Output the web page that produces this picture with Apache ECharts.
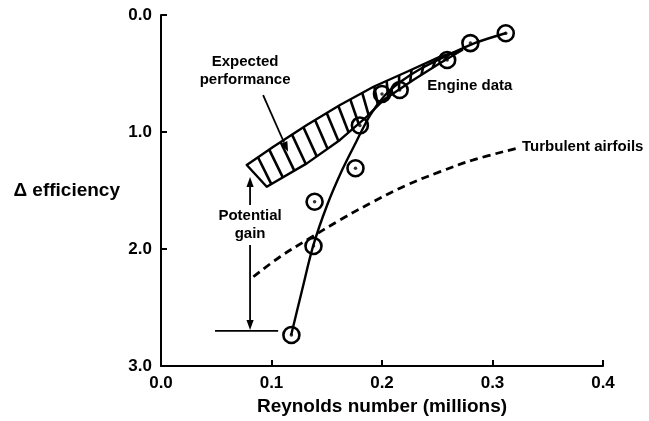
<!DOCTYPE html>
<html><head><meta charset="utf-8">
<script src="https://cdn.jsdelivr.net/npm/echarts@6/dist/echarts.min.js"></script>
<style>html,body{margin:0;padding:0;background:#fff}#c{width:649px;height:421px}</style>
</head><body><div id="c"></div>
<script>
// ---- tick labels ----
const xTickLabels = ['0.0', '0.1', '0.2', '0.3', '0.4'];
const yTickLabels = ['0.0', '1.0', '2.0', '3.0'];

// ---- engine data (circles) ----
const engineDataX = [0.118, 0.138, 0.139, 0.176, 0.180, 0.200, 0.216, 0.259, 0.280, 0.312];
const engineDataY = [2.735, 1.974, 1.596, 1.310, 0.944, 0.675, 0.641, 0.385, 0.240, 0.156];

// ---- engine data fitted curve ----
const engineFitX = [0.1178, 0.1277, 0.1377, 0.1504, 0.1639, 0.1766, 0.1893, 0.2029, 0.2165, 0.2346, 0.2582, 0.2844, 0.3125];
const engineFitY = [2.735, 2.350, 1.974, 1.624, 1.325, 1.085, 0.855, 0.684, 0.573, 0.462, 0.350, 0.239, 0.154];

// ---- turbulent airfoils (dashed) ----
const turbulentX = [0.0836, 0.1078, 0.132, 0.162, 0.192, 0.2226, 0.2527, 0.2826, 0.3222];
const turbulentY = [2.237, 2.066, 1.923, 1.752, 1.596, 1.453, 1.339, 1.239, 1.139];

// ---- expected performance band edges ----
const bandUpperX = [0.0776, 0.1017, 0.132, 0.162, 0.1923, 0.2226, 0.2527, 0.2726];
const bandUpperY = [1.282, 1.126, 0.940, 0.769, 0.613, 0.485, 0.356, 0.299];
const bandLowerX = [0.0957, 0.132, 0.162, 0.1863, 0.2014, 0.2283, 0.2527, 0.2726];
const bandLowerY = [1.468, 1.268, 1.068, 0.869, 0.726, 0.556, 0.410, 0.299];

// ---- annotations ----
const labelTexts = ['Expected\nperformance', 'Engine data', 'Turbulent airfoils', 'Potential\ngain'];
const labelX = [0.0761, 0.241, 0.3267, 0.0806];
const labelY = [0.478, 0.607, 1.126, 1.795];
const labelAlign = ['center', 'left', 'left', 'center'];

const arrowFromX = [0.0924, 0.0806, 0.0806];
const arrowFromY = [0.684, 1.624, 1.966];
const arrowToX = [0.115, 0.0806, 0.0806];
const arrowToY = [1.168, 1.385, 2.692];

const gainBaseX = [0.0489, 0.106];
const gainBaseY = [2.70, 2.70];

const FONT = '"Liberation Sans", Arial, Helvetica, sans-serif';

function zip(xs, ys) { return xs.map((x, i) => [x, ys[i]]); }
function dist(a, b) { return Math.hypot(b[0] - a[0], b[1] - a[1]); }
function polyLen(p) { let s = 0; for (let i = 1; i < p.length; i++) s += dist(p[i - 1], p[i]); return s; }
function pointAt(p, s) {
  if (s <= 0) return p[0];
  for (let i = 1; i < p.length; i++) {
    const d = dist(p[i - 1], p[i]);
    if (s <= d) { const t = s / d; return [p[i - 1][0] + t * (p[i][0] - p[i - 1][0]), p[i - 1][1] + t * (p[i][1] - p[i - 1][1])]; }
    s -= d;
  }
  return p[p.length - 1];
}

const chart = echarts.init(document.getElementById('c'), null, { renderer: 'canvas' });

const option = {
  backgroundColor: '#fff',
  animation: false,
  grid: { left: 161, right: 46, top: 15, bottom: 55 },
  xAxis: {
    type: 'value', min: 0, max: 0.4, interval: 0.1, position: 'bottom',
    name: 'Reynolds number (millions)', nameLocation: 'middle', nameGap: 30,
    nameTextStyle: { fontFamily: FONT, fontSize: 19, fontWeight: 'bold', color: '#000' },
    axisLine: { show: true, onZero: false, lineStyle: { color: '#000', width: 2 } },
    axisTick: { show: true, inside: true, length: 6, lineStyle: { color: '#000', width: 2 } },
    axisLabel: { margin: 9, fontFamily: FONT, fontSize: 17, fontWeight: 'bold', color: '#000',
      formatter: v => xTickLabels[Math.round(v * 10)] },
    splitLine: { show: false }
  },
  yAxis: {
    type: 'value', min: 0, max: 3, interval: 1, inverse: true, position: 'left',
    name: 'Δ efficiency', nameLocation: 'middle', nameRotate: 0, nameGap: 41,
    nameTextStyle: { fontFamily: FONT, fontSize: 19, fontWeight: 'bold', color: '#000', align: 'right' },
    axisLine: { show: true, onZero: false, lineStyle: { color: '#000', width: 2 } },
    axisTick: { show: true, inside: true, length: 6, lineStyle: { color: '#000', width: 2 } },
    axisLabel: { margin: 9, fontFamily: FONT, fontSize: 17, fontWeight: 'bold', color: '#000',
      formatter: v => yTickLabels[Math.round(v)] },
    splitLine: { show: false }
  },
  series: [
    {
      name: 'Expected performance', type: 'custom', z: 3,
      data: [[bandUpperX[0], bandUpperY[0]]],
      renderItem: function (params, api) {
        const up = zip(bandUpperX, bandUpperY).map(p => api.coord(p));
        const lo = zip(bandLowerX, bandLowerY).map(p => api.coord(p));
        const poly = up.concat(lo.slice().reverse());
        const Lu = polyLen(up), Ll = polyLen(lo);
        const children = [{
          type: 'polygon', shape: { points: poly },
          style: { fill: '#fff', stroke: '#000', lineWidth: 2.4, lineJoin: 'round' }
        }];
        const N = 17;
        for (let k = 1; k <= N; k++) {
          const f = k / (N + 1);
          const a = pointAt(up, f * Lu);
          const b = pointAt(lo, Math.max(0, f * Ll - 8));
          children.push({ type: 'line', shape: { x1: a[0], y1: a[1], x2: b[0], y2: b[1] },
            style: { stroke: '#000', lineWidth: 2.6 } });
        }
        return { type: 'group', children: children };
      }
    },
    {
      name: 'Turbulent airfoils', type: 'line', z: 4, smooth: 0.4, showSymbol: false,
      data: zip(turbulentX, turbulentY),
      lineStyle: { color: '#000', width: 2.8, type: [8, 5] }
    },
    {
      name: 'Engine fit', type: 'line', z: 5, smooth: 0.3, showSymbol: false,
      data: zip(engineFitX, engineFitY),
      lineStyle: { color: '#000', width: 2.4 }
    },
    {
      name: 'Engine data', type: 'scatter', z: 6, symbol: 'circle', symbolSize: 16,
      data: zip(engineDataX, engineDataY),
      itemStyle: { color: 'rgba(255,255,255,0)', borderColor: '#000', borderWidth: 2.6, opacity: 1 }
    },
    {
      name: 'Engine data dots', type: 'scatter', z: 7, symbol: 'circle', symbolSize: 3.5,
      data: zip(engineDataX, engineDataY),
      itemStyle: { color: '#000' }
    },
    {
      name: 'Arrows', type: 'custom', z: 8,
      data: arrowFromX.map((x, i) => [x, arrowFromY[i], arrowToX[i], arrowToY[i]]),
      renderItem: function (params, api) {
        const i = params.dataIndex;
        const p0 = api.coord([arrowFromX[i], arrowFromY[i]]);
        const p1 = api.coord([arrowToX[i], arrowToY[i]]);
        const dx = p1[0] - p0[0], dy = p1[1] - p0[1], L = Math.hypot(dx, dy);
        const ux = dx / L, uy = dy / L, hl = 10, hw = 3.6;
        const bx = p1[0] - ux * hl, by = p1[1] - uy * hl;
        return { type: 'group', children: [
          { type: 'line', shape: { x1: p0[0], y1: p0[1], x2: bx, y2: by }, style: { stroke: '#000', lineWidth: 1.8 } },
          { type: 'polygon', shape: { points: [p1, [bx - uy * hw, by + ux * hw], [bx + uy * hw, by - ux * hw]] }, style: { fill: '#000' } }
        ] };
      }
    },
    {
      name: 'Gain base', type: 'line', z: 8, showSymbol: false,
      data: zip(gainBaseX, gainBaseY),
      lineStyle: { color: '#000', width: 1.8 }
    },
    {
      name: 'Labels', type: 'custom', z: 9,
      data: labelX.map((x, i) => [x, labelY[i]]),
      renderItem: function (params, api) {
        const i = params.dataIndex;
        const p = api.coord([labelX[i], labelY[i]]);
        return { type: 'text', x: p[0], y: p[1], style: {
          text: labelTexts[i], fill: '#000', font: 'bold 15px ' + FONT,
          align: labelAlign[i], verticalAlign: 'middle', lineHeight: 18
        } };
      }
    }
  ]
};
chart.setOption(option);
</script>
</body></html>
